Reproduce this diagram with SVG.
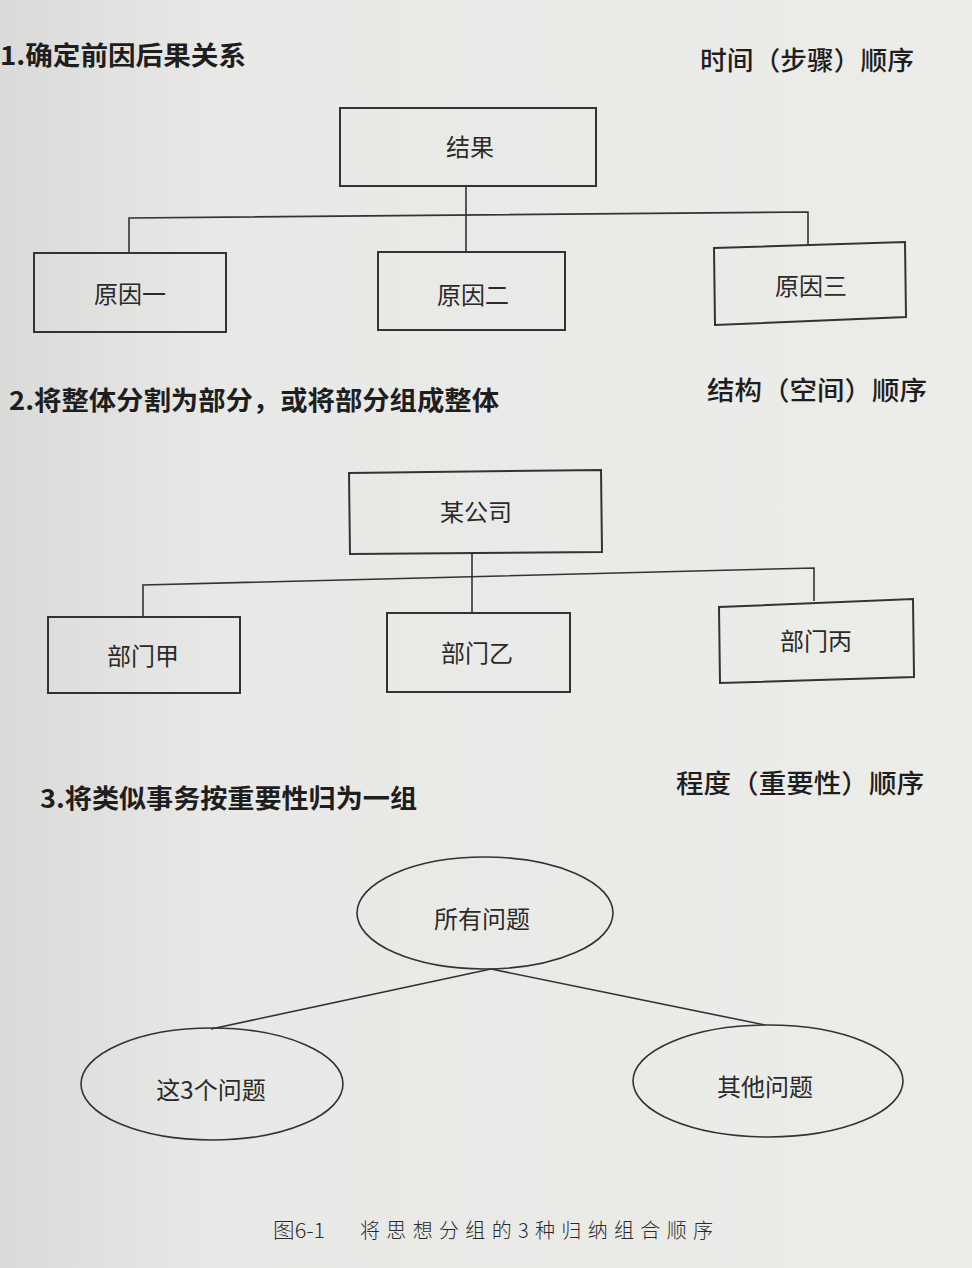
<svg xmlns="http://www.w3.org/2000/svg" width="972" height="1268" viewBox="0 0 972 1268">
  <defs>
    <linearGradient id="bg" x1="0" y1="0" x2="1" y2="0">
      <stop offset="0" stop-color="#dadad8"/>
      <stop offset="0.22" stop-color="#e8e8e6"/>
      <stop offset="1" stop-color="#ecece9"/>
    </linearGradient>
  </defs>
  <style>
    .t { font-family: "Noto Sans CJK SC", "Noto Sans", sans-serif; fill: #1e1e1e; }
    .h { font-size: 26px; font-weight: bold; }
    .r { font-size: 26px; font-weight: 500; }
    .lbl { font-size: 24px; text-anchor: middle; fill: #2a2a2a; }
    .cap { font-size: 20px; fill: #2a2a2a; font-weight: 300; }
    .box { fill: none; stroke: #333; stroke-width: 2; }
    .ell { fill: none; stroke: #333; stroke-width: 1.6; }
    .ln { fill: none; stroke: #333; stroke-width: 1.6; }
  </style>
  <rect x="0" y="0" width="972" height="1268" fill="url(#bg)"/>

  <!-- headings -->
  <text class="t h" x="0" y="65" textLength="246" lengthAdjust="spacingAndGlyphs">1.确定前因后果关系</text>
  <text class="t r" x="700" y="70" textLength="214" lengthAdjust="spacingAndGlyphs">时间（步骤）顺序</text>
  <text class="t h" x="9" y="410" textLength="490" lengthAdjust="spacingAndGlyphs">2.将整体分割为部分，或将部分组成整体</text>
  <text class="t r" x="707" y="400" textLength="220" lengthAdjust="spacingAndGlyphs">结构（空间）顺序</text>
  <text class="t h" x="40" y="808" textLength="377" lengthAdjust="spacingAndGlyphs">3.将类似事务按重要性归为一组</text>
  <text class="t r" x="676" y="793" textLength="248" lengthAdjust="spacingAndGlyphs">程度（重要性）顺序</text>

  <!-- connectors -->
  <g id="connectors">
    <polyline class="ln" points="466,186 466,252"/>
    <polyline class="ln" points="129,253 129,218 808,212 808,244"/>
    <polyline class="ln" points="472,552 472,613"/>
    <polyline class="ln" points="143,617 143,585 814,568 814,601"/>
    <line class="ln" x1="491" y1="969" x2="211" y2="1029"/>
    <line class="ln" x1="491" y1="969" x2="765" y2="1025"/>
  </g>

  <!-- section 1 -->
  <g id="n-result">
    <rect class="box" x="340" y="108" width="256" height="78"/>
    <text class="t lbl" x="470" y="156">结果</text>
  </g>
  <g id="n-cause1">
    <rect class="box" x="34" y="253" width="192" height="79"/>
    <text class="t lbl" x="130" y="303">原因一</text>
  </g>
  <g id="n-cause2">
    <rect class="box" x="378" y="252" width="187" height="78"/>
    <text class="t lbl" x="473" y="304">原因二</text>
  </g>
  <g id="n-cause3">
    <polygon class="box" points="714,248 905,242 906,317 715,325"/>
    <text class="t lbl" x="811" y="295">原因三</text>
  </g>

  <!-- section 2 -->
  <g id="n-company">
    <polygon class="box" points="349,473 601,470 602,552 350,554"/>
    <text class="t lbl" x="476" y="521">某公司</text>
  </g>
  <g id="n-deptA">
    <rect class="box" x="48" y="617" width="192" height="76"/>
    <text class="t lbl" x="143" y="665">部门甲</text>
  </g>
  <g id="n-deptB">
    <rect class="box" x="387" y="613" width="183" height="79"/>
    <text class="t lbl" x="477" y="662">部门乙</text>
  </g>
  <g id="n-deptC">
    <polygon class="box" points="719,607 913,599 914,677 720,683"/>
    <text class="t lbl" x="816" y="650">部门丙</text>
  </g>

  <!-- section 3 -->
  <g id="n-all">
    <ellipse class="ell" cx="485" cy="913" rx="128" ry="56"/>
    <text class="t lbl" x="482" y="928">所有问题</text>
  </g>
  <g id="n-three">
    <ellipse class="ell" cx="212" cy="1084" rx="131" ry="56"/>
    <text class="t lbl" x="211" y="1099">这3个问题</text>
  </g>
  <g id="n-other">
    <ellipse class="ell" cx="768" cy="1081" rx="135" ry="56"/>
    <text class="t lbl" x="765" y="1096">其他问题</text>
  </g>

  <!-- caption -->
  <text class="t cap" x="273" y="1238" textLength="52" lengthAdjust="spacingAndGlyphs">图6-1</text>
  <text class="t cap" x="360" y="1238" textLength="353" lengthAdjust="spacing">将思想分组的3种归纳组合顺序</text>
</svg>
